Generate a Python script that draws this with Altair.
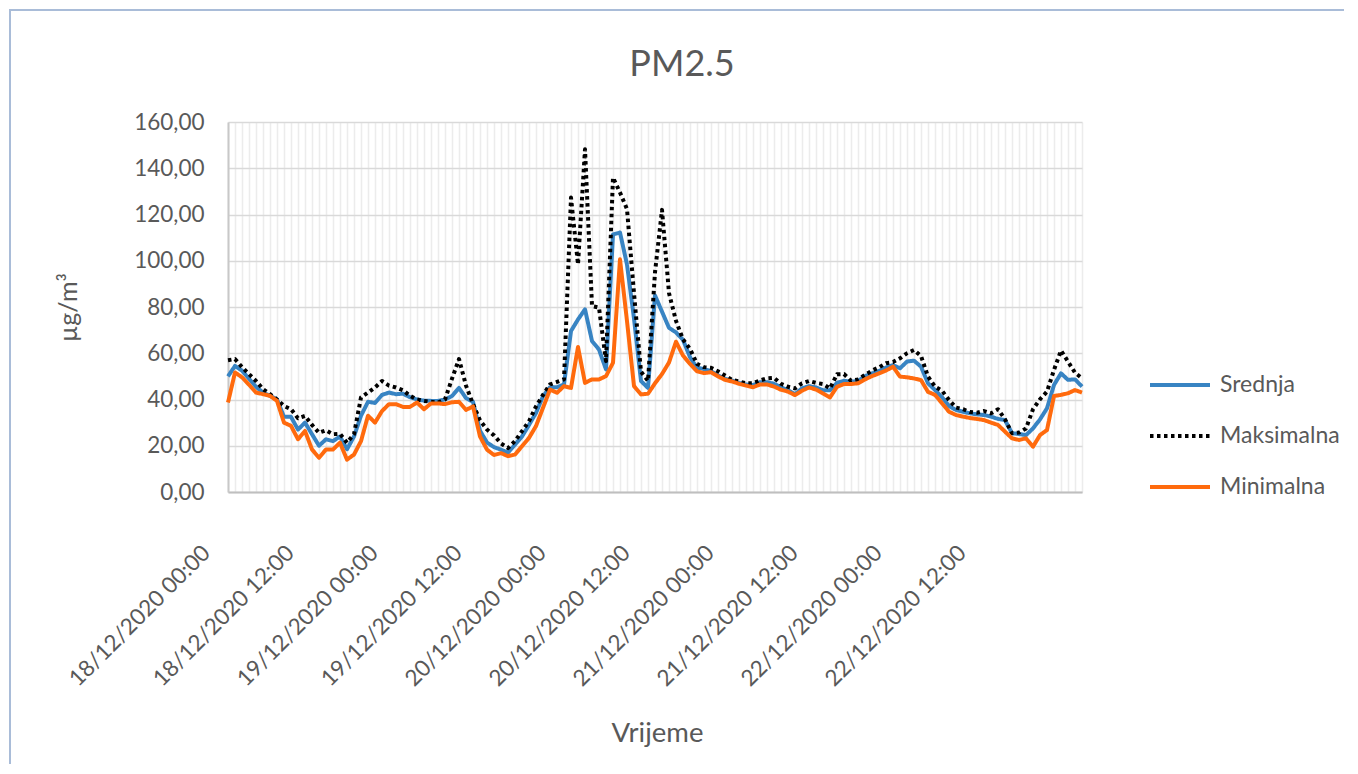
import altair as alt
import pandas as pd

# ---- data (hourly, 18/12/2020 00:00 -> 23/12/2020 02:00) ----
hours = list(range(123))

srednja = [
    50, 54.5, 52.5, 49, 45.5, 43, 41.6, 40.1, 32.5, 32.5,
    27, 30, 25, 20, 22.8, 22, 24, 18.5, 24, 33,
    39, 38.5, 42, 43, 42.3, 42.5, 41, 40, 39.5, 39.4,
    39.4, 40, 41.5, 45, 40.6, 39, 26.5, 21.4, 19.4, 18.3,
    17, 20.5, 24, 29, 34.2, 41.4, 45.3, 45.3, 46.5, 69.6,
    74.6, 79, 65.3, 61.6, 53, 111.4, 112.2, 98.4, 75, 48,
    45, 85, 78, 71, 69, 65.8, 58.3, 53.7, 53.2, 52.2,
    50.4, 49, 48.2, 47.2, 46.5, 46.2, 47.5, 47.5, 46.8, 45.3,
    44, 42.3, 44.8, 45.8, 45.2, 44, 44, 47.2, 48.1, 47.7,
    48, 50.1, 51.3, 52.3, 53.8, 54.9, 53.5, 56.4, 56.8, 54.2,
    47, 44.1, 41, 37.2, 35.5, 34.7, 34, 33.6, 33.3, 32.6,
    31.6, 31.1, 25.4, 25.1, 24.6, 27.5, 31.4, 36.2, 46.3, 51.3,
    48.5, 48.7, 45.6,
]

maksimalna = [
    57, 57.5, 54, 51, 48, 44.5, 42.3, 40, 37.2, 35.8,
    31.9, 32.9, 29, 25.6, 26.7, 25, 25.2, 21.3, 25, 40.9,
    43, 45.2, 48, 46, 45.2, 44, 41.6, 40, 39.4, 39,
    38.7, 40, 49, 57.5, 46, 38, 31, 27, 24.5, 21,
    19, 22, 26.3, 30.6, 37, 42, 46.5, 47.6, 48.7, 127.3,
    98.4, 148.2, 80.4, 79.7, 56.6, 136, 129.5, 122.3, 86, 52,
    48, 95, 122, 86, 74, 66, 61.9, 55.4, 54, 53.7,
    52.2, 50.4, 48.5, 47.8, 47, 47, 48.2, 49.2, 49.4, 46.8,
    45.5, 44.8, 47, 48, 47.2, 46.7, 44.8, 50.9, 51, 48.1,
    48.7, 50.6, 52.5, 53.9, 55.7, 56.2, 57.8, 60, 61.4, 58.8,
    49.9, 45.6, 43.8, 39.8, 36.5, 35.8, 34.6, 34.3, 35, 34,
    35.8, 31.4, 25.4, 25.7, 27.5, 35.8, 40.1, 43.4, 52.8, 61.2,
    56.4, 51.6, 49.2,
]

minimalna = [
    38.7, 51.7, 49.6, 46.4, 43, 42.3, 41.6, 39.4, 30, 28.6,
    22.8, 26.4, 18.4, 14.8, 18.4, 18.4, 21.3, 14, 16.2, 22,
    33, 30, 35, 38, 38, 36.8, 36.8, 38.7, 35.8, 38.3,
    38.3, 38, 38.8, 39, 35.5, 37, 24, 18.3, 16, 16.8,
    15.5, 16.2, 19.8, 23.4, 28.5, 36.4, 44.3, 42.9, 45.8, 45,
    62.7, 47.2, 48.7, 48.7, 50.1, 55.9, 100.6, 73.9, 45.8, 42.2,
    42.5, 47, 51, 56, 65, 59, 55.4, 52.2, 51.4, 51.8,
    50, 48.5, 47.8, 46.8, 46, 45.3, 46.5, 46.5, 45.6, 44.2,
    43.4, 41.9, 43.8, 45.2, 44.3, 42.6, 40.9, 45.5, 46.7, 46.7,
    47, 48.7, 50.1, 51.3, 52.5, 54.2, 49.9, 49.6, 49.1, 48.4,
    43.3, 42, 38.4, 34.7, 33.3, 32.6, 32, 31.6, 31.1, 30,
    29, 26.1, 23.2, 22.5, 23.2, 19.6, 24.6, 26.8, 41.5, 42,
    42.7, 44.1, 43,
]

tick_labels = [
    "18/12/2020 00:00", "18/12/2020 12:00",
    "19/12/2020 00:00", "19/12/2020 12:00",
    "20/12/2020 00:00", "20/12/2020 12:00",
    "21/12/2020 00:00", "21/12/2020 12:00",
    "22/12/2020 00:00", "22/12/2020 12:00",
]
y_ticks = [0, 20, 40, 60, 80, 100, 120, 140, 160]

series_names = ["Srednja", "Maksimalna", "Minimalna"]
series_colors = ["#3884c3", "#000000", "#ff6a0d"]
series_dash = [[1, 0], [3.5, 3.5], [1, 0]]

# ---- long table ----
rows = []
for name, vals in zip(series_names, [srednja, maksimalna, minimalna]):
    for h, v in zip(hours, vals):
        rows.append({"sat": h, "vrijednost": v, "serija": name})
df = pd.DataFrame(rows)

FONT = "Lato"
GREY = "#595959"

label_array = "[" + ",".join("'" + t + "'" for t in tick_labels) + "]"
x_label_expr = (
    "(datum.value % 12 == 0 && datum.value / 12 < " + str(len(tick_labels)) + ") ? "
    + label_array + "[datum.value / 12] : ''"
)

legend = alt.Legend(
    title=None,
    orient="none",
    legendX=920,
    legendY=231,
    symbolType="stroke",
    symbolSize=3600,
    symbolStrokeWidth=4,
    labelFont=FONT,
    labelFontSize=23,
    labelColor=GREY,
    labelOffset=8,
    rowPadding=7,
)

lines = alt.Chart(df).mark_line(
    strokeWidth=4, strokeCap="butt", strokeJoin="round"
).encode(
    x=alt.X(
        "sat:Q",
        scale=alt.Scale(domain=[0, 122], nice=False, zero=False),
        axis=alt.Axis(
            values=hours,
            labelExpr=x_label_expr,
            labelAngle=-45,
            labelAlign="right",
            labelBaseline="middle",
            labelPadding=57,
            labelOffset=-22,
            labelOverlap=False,
            labelLimit=400,
            labelFont=FONT,
            labelFontSize=22.5,
            labelColor=GREY,
            ticks=False,
            grid=True,
            gridColor="#ececec",
            gridWidth=1.5,
            domainColor="#bfbfbf",
            domainWidth=2,
            title="Vrijeme",
            titleFont=FONT,
            titleFontSize=27.5,
            titleFontWeight="normal",
            titleColor=GREY,
            titleX=429,
            titleY=241,
            titleAlign="center",
            titleBaseline="middle",
        ),
    ),
    y=alt.Y(
        "vrijednost:Q",
        scale=alt.Scale(domain=[0, 160], nice=False),
        axis=alt.Axis(
            values=y_ticks,
            labelExpr="replace(format(datum.value, '.2f'), '.', ',')",
            labelFont=FONT,
            labelFontSize=22.5,
            labelColor=GREY,
            labelPadding=24,
            ticks=False,
            grid=True,
            gridColor="#d9d9d9",
            gridWidth=1.5,
            domainColor="#c8c8c8",
            domainWidth=2,
            title="µg/m³",
            titleFont=FONT,
            titleFontSize=25,
            titleFontWeight="normal",
            titleColor=GREY,
            titleX=-160,
            titleY=185,
            titleAngle=-90,
            titleAlign="center",
            titleBaseline="middle",
        ),
    ),
    color=alt.Color(
        "serija:N",
        scale=alt.Scale(domain=series_names, range=series_colors),
        legend=legend,
    ),
    strokeDash=alt.StrokeDash(
        "serija:N",
        scale=alt.Scale(domain=series_names, range=series_dash),
        legend=legend,
    ),
)

border = alt.Chart(alt.Data(values=[{"k": 1}])).mark_rect(
    filled=False, stroke="#a9bcd8", strokeWidth=2
).encode(
    x=alt.value(-218), x2=alt.value(1122), y=alt.value(-112), y2=alt.value(652)
)

chart = alt.layer(border, lines).properties(
    width=854,
    height=370,
    padding={"left": 220, "top": 114, "right": 262, "bottom": 272},
    autosize=alt.AutoSizeParams(type="none"),
    title=alt.TitleParams(
        "PM2.5",
        font=FONT,
        fontSize=36,
        fontWeight="normal",
        color=GREY,
        anchor="middle",
        baseline="alphabetic",
        dx=27,
        dy=103,
        offset=0,
    ),
).configure_view(strokeWidth=0)

chart.save("out.html", embed_options={"renderer": "svg", "actions": False})
